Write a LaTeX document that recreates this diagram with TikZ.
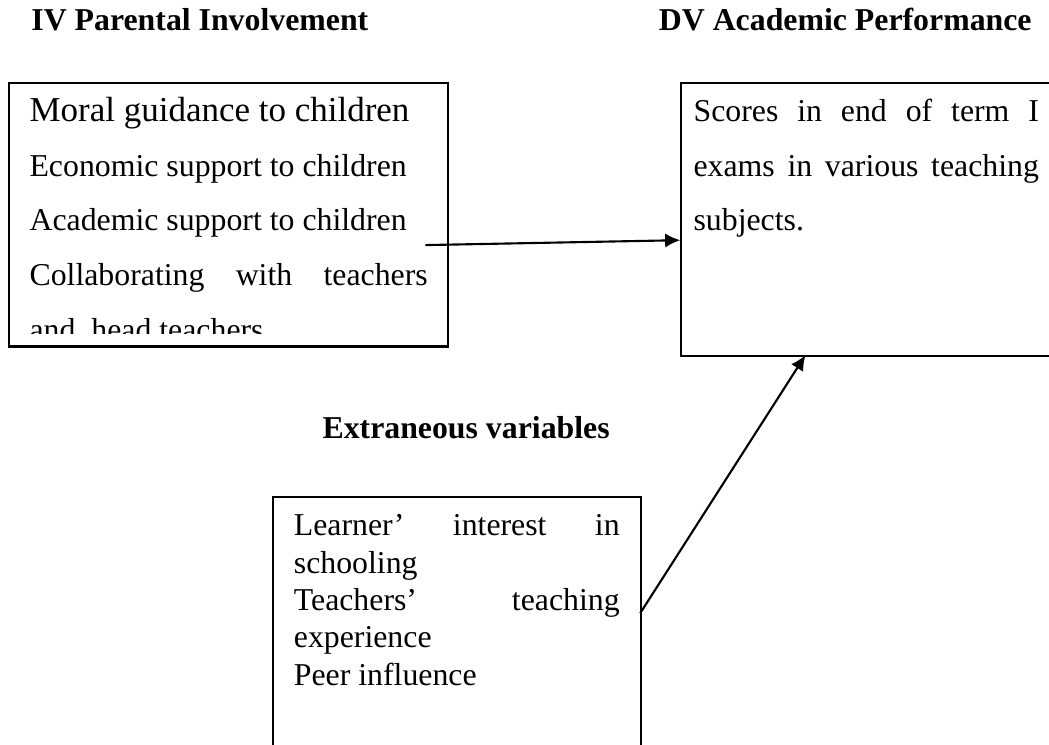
\documentclass[tikz,border=0pt]{standalone}
\usepackage{fontspec}
\setmainfont{Liberation Serif}
\usetikzlibrary{arrows.meta}

\begin{document}
\begin{tikzpicture}[
    box/.style={draw,line width=0.8pt,inner sep=0pt,anchor=north west},
    txt/.style={anchor=base west,inner sep=0pt,font=\fontsize{12}{14}\selectfont},
    head/.style={anchor=base west,inner sep=0pt,font=\fontsize{12}{14}\selectfont\bfseries},
    link/.style={line width=0.8pt,-{Latex[length=2mm,width=1.9mm]}}
  ]

    \clip (0,0) rectangle (13.91,9.87);

    % headings
    \node[head] (ivhead) at (0.41,9.47) {IV Parental Involvement};
    \node[head] (dvhead) at (8.73,9.47) {DV Academic Performance};
    \node[head] (evhead) at (4.27,4.06) {Extraneous variables};

    % boxes
    \node[box,minimum width=5.82cm,minimum height=3.49cm] (iv) at (0.106,8.78) {};
    \node[box,minimum width=5.60cm,minimum height=3.62cm] (dv) at (9.02,8.78) {};
    \node[box,minimum width=4.88cm,minimum height=3.90cm] (ev) at (3.61,3.29) {};

    % independent variable
    \node[txt,font=\fontsize{13.2}{15}\selectfont] (iv1) at (0.385,8.26) {Moral guidance to children};
    \node[txt] (iv2) at (0.385,7.53) {Economic support to children};
    \node[txt] (iv3) at (0.385,6.81) {Academic support to children};
    \node[txt] (iv4) at (0.385,6.08) {\makebox[5.28cm][s]{Collaborating\hfill with\hfill teachers}};
    \begin{scope}
        \clip (0.106,5.45) rectangle (5.93,8.78);
        \node[txt] (iv5) at (0.385,5.36) {and\ \ head teachers};
    \end{scope}

    % dependent variable
    \node[txt] (dv1) at (9.19,8.26) {\makebox[4.58cm][s]{Scores\hfill in\hfill end\hfill of\hfill term\hfill I}};
    \node[txt] (dv2) at (9.19,7.53) {\makebox[4.58cm][s]{exams\hfill in\hfill various\hfill teaching}};
    \node[txt] (dv3) at (9.19,6.81) {subjects.};

    % extraneous variables
    \node[txt] (ev1) at (3.89,2.77) {\makebox[4.32cm][s]{Learner’\hfill interest\hfill in}};
    \node[txt] (ev2) at (3.89,2.27) {schooling};
    \node[txt] (ev3) at (3.89,1.78) {\makebox[4.32cm][s]{Teachers’\hfill teaching}};
    \node[txt] (ev4) at (3.89,1.28) {experience};
    \node[txt] (ev5) at (3.89,0.78) {Peer influence};

    % arrows
    \coordinate (ivout) at (5.64,6.62);
    \coordinate (dvin) at (9.02,6.685);
    \coordinate (evout) at (8.49,1.74);
    \coordinate (dvbot) at (10.68,5.16);

    \draw[link] (ivout) -- (dvin);
    \draw[link] (evout) -- (dvbot);
\end{tikzpicture}
\end{document}
